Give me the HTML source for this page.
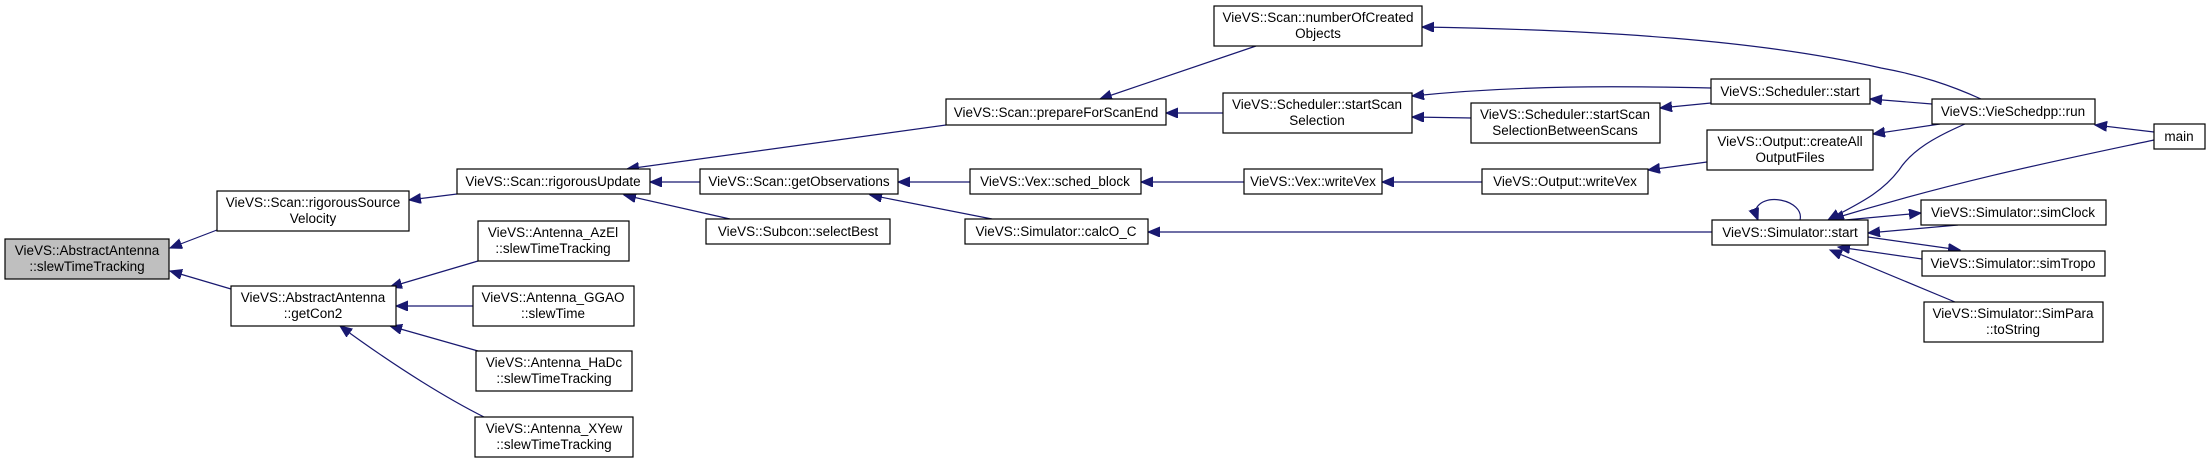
<!DOCTYPE html>
<html><head><meta charset="utf-8"><style>
html,body{margin:0;padding:0;background:#fff;}
svg{display:block;}
text{font-family:"Liberation Sans",sans-serif;font-size:13.5px;fill:#000;text-anchor:middle;}
rect{fill:#fff;stroke:#000;stroke-width:1.2;}
path.e,line.e{stroke:#191970;stroke-width:1.2;fill:none;marker-end:url(#a);}
</style></head><body>
<svg width="2211" height="463" viewBox="0 0 2211 463" xmlns="http://www.w3.org/2000/svg">
<defs><marker id="a" markerUnits="userSpaceOnUse" markerWidth="14" markerHeight="12" refX="12" refY="5" orient="auto"><path d="M0,0 L12,5 L0,10 z" fill="#191970" stroke="#191970"/></marker></defs>

<!-- edges -->
<line class="e" x1="217" y1="230" x2="170" y2="248"/>
<line class="e" x1="231" y1="289" x2="170" y2="271"/>
<line class="e" x1="457" y1="194" x2="409" y2="200"/>
<line class="e" x1="478" y1="261" x2="390" y2="287"/>
<line class="e" x1="473" y1="306" x2="396" y2="306"/>
<line class="e" x1="478" y1="351" x2="390" y2="326"/>
<path class="e" d="M484,417 C450,400 400,370 340,326"/>
<line class="e" x1="946" y1="125" x2="627" y2="169"/>
<line class="e" x1="700" y1="182" x2="650" y2="182"/>
<line class="e" x1="730" y1="219" x2="624" y2="195"/>
<line class="e" x1="1256" y1="46" x2="1100" y2="99"/>
<line class="e" x1="1223" y1="113" x2="1166" y2="113"/>
<line class="e" x1="970" y1="182" x2="898" y2="182"/>
<line class="e" x1="992" y1="219" x2="870" y2="195"/>
<line class="e" x1="1244" y1="182" x2="1141" y2="182"/>
<line class="e" x1="1482" y1="182" x2="1382" y2="182"/>
<line class="e" x1="1713" y1="232" x2="1148" y2="232"/>
<path class="e" d="M1711,88 C1620,86 1520,85 1412,96"/>
<line class="e" x1="1472" y1="118" x2="1412" y2="117"/>
<line class="e" x1="1711" y1="103" x2="1660" y2="108"/>
<line class="e" x1="1707" y1="162" x2="1648" y2="170"/>
<path class="e" d="M1981,99 C1950,85 1920,75 1881,68 C1760,40 1600,30 1422,27"/>
<line class="e" x1="1932" y1="104" x2="1870" y2="99"/>
<line class="e" x1="1940" y1="124" x2="1873" y2="134"/>
<path class="e" d="M1965,124 C1935,137 1912,150 1899,170 C1880,195 1855,205 1828,220"/>
<line class="e" x1="2154" y1="132" x2="2095" y2="125"/>
<path class="e" d="M2154,140 C2060,160 1960,180 1832,219"/>
<path class="e" d="M1800,220 C1805,200 1760,190 1755,212 L1758,220"/>
<line class="e" x1="1845" y1="220" x2="1921" y2="213"/>
<line class="e" x1="1958" y1="225" x2="1868" y2="233"/>
<line class="e" x1="1868" y1="237" x2="1960" y2="250"/>
<line class="e" x1="1922" y1="259" x2="1838" y2="247"/>
<line class="e" x1="1955" y1="302" x2="1830" y2="250"/>

<!-- nodes -->
<rect x="5" y="239" width="164" height="40" style="fill:#bfbfbf"/>
<text x="87" y="255">VieVS::AbstractAntenna</text><text x="87" y="271">::slewTimeTracking</text>

<rect x="217" y="191" width="192" height="40"/>
<text x="313" y="207">VieVS::Scan::rigorousSource</text><text x="313" y="223">Velocity</text>

<rect x="231" y="286" width="165" height="40"/>
<text x="313" y="302">VieVS::AbstractAntenna</text><text x="313" y="318">::getCon2</text>

<rect x="457" y="169" width="193" height="25"/>
<text x="553" y="186">VieVS::Scan::rigorousUpdate</text>

<rect x="478" y="221" width="151" height="40"/>
<text x="553" y="237">VieVS::Antenna_AzEl</text><text x="553" y="253">::slewTimeTracking</text>

<rect x="473" y="286" width="161" height="40"/>
<text x="553" y="302">VieVS::Antenna_GGAO</text><text x="553" y="318">::slewTime</text>

<rect x="476" y="351" width="156" height="40"/>
<text x="554" y="367">VieVS::Antenna_HaDc</text><text x="554" y="383">::slewTimeTracking</text>

<rect x="475" y="417" width="158" height="40"/>
<text x="554" y="433">VieVS::Antenna_XYew</text><text x="554" y="449">::slewTimeTracking</text>

<rect x="946" y="99" width="220" height="26"/>
<text x="1056" y="117">VieVS::Scan::prepareForScanEnd</text>

<rect x="700" y="169" width="198" height="25"/>
<text x="799" y="186">VieVS::Scan::getObservations</text>

<rect x="706" y="219" width="184" height="25"/>
<text x="798" y="236">VieVS::Subcon::selectBest</text>

<rect x="1214" y="6" width="208" height="40"/>
<text x="1318" y="22">VieVS::Scan::numberOfCreated</text><text x="1318" y="38">Objects</text>

<rect x="1223" y="93" width="189" height="40"/>
<text x="1317" y="109">VieVS::Scheduler::startScan</text><text x="1317" y="125">Selection</text>

<rect x="970" y="169" width="171" height="25"/>
<text x="1055" y="186">VieVS::Vex::sched_block</text>

<rect x="965" y="219" width="183" height="25"/>
<text x="1056" y="236">VieVS::Simulator::calcO_C</text>

<rect x="1244" y="169" width="138" height="25"/>
<text x="1313" y="186">VieVS::Vex::writeVex</text>

<rect x="1471" y="103" width="189" height="40"/>
<text x="1565" y="119">VieVS::Scheduler::startScan</text><text x="1565" y="135">SelectionBetweenScans</text>

<rect x="1482" y="169" width="166" height="25"/>
<text x="1565" y="186">VieVS::Output::writeVex</text>

<rect x="1711" y="79" width="159" height="25"/>
<text x="1790" y="96">VieVS::Scheduler::start</text>

<rect x="1707" y="130" width="166" height="40"/>
<text x="1790" y="146">VieVS::Output::createAll</text><text x="1790" y="162">OutputFiles</text>

<rect x="1712" y="220" width="156" height="25"/>
<text x="1790" y="237">VieVS::Simulator::start</text>

<rect x="1932" y="99" width="163" height="25"/>
<text x="2013" y="116">VieVS::VieSchedpp::run</text>

<rect x="2154" y="124" width="51" height="25"/>
<text x="2179" y="141">main</text>

<rect x="1921" y="200" width="185" height="25"/>
<text x="2013" y="217">VieVS::Simulator::simClock</text>

<rect x="1922" y="251" width="183" height="25"/>
<text x="2013" y="268">VieVS::Simulator::simTropo</text>

<rect x="1924" y="302" width="179" height="40"/>
<text x="2013" y="318">VieVS::Simulator::SimPara</text><text x="2013" y="334">::toString</text>
</svg>
</body></html>
